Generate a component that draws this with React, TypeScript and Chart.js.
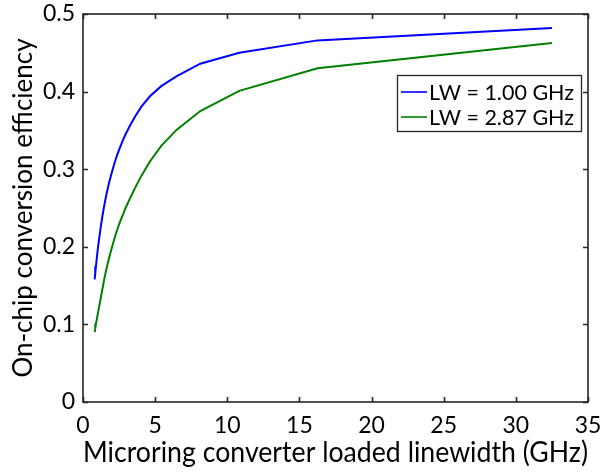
import React, { useEffect, useRef } from "react";
import { Chart, registerables } from "chart.js";

Chart.register(...registerables);

// Loaded linewidth (GHz)
const xValues = [32.5, 16.25, 10.83, 8.13, 6.5, 5.42, 4.64, 4.06, 3.61, 3.25, 2.95, 2.71, 2.5, 2.32, 2.17, 2.03, 1.81, 1.63, 1.48, 1.35, 1.25, 1.16, 1.08, 1.02, 0.96, 0.9, 0.85, 0.81];
// LW = 1.00 GHz
const effLw100 = [0.482, 0.466, 0.45, 0.436, 0.42, 0.407, 0.394, 0.381, 0.368, 0.356, 0.345, 0.335, 0.325, 0.316, 0.307, 0.298, 0.283, 0.268, 0.254, 0.24, 0.228, 0.216, 0.205, 0.196, 0.186, 0.175, 0.166, 0.158];
// LW = 2.87 GHz
const effLw287 = [0.4625, 0.43, 0.401, 0.375, 0.351, 0.33, 0.31, 0.292, 0.276, 0.262, 0.25, 0.239, 0.229, 0.219, 0.21, 0.201, 0.186, 0.172, 0.159, 0.146, 0.136, 0.127, 0.119, 0.113, 0.107, 0.101, 0.095, 0.09];

const seriesLabels = ["LW = 1.00 GHz", "LW = 2.87 GHz"];
const seriesColors = ["#0000ff", "#008000"];
const xTicks = [0, 5, 10, 15, 20, 25, 30, 35];
const yTicks = [0, 0.1, 0.2, 0.3, 0.4, 0.5];
const xTitle = "Microring converter loaded linewidth (GHz)";
const yTitle = "On-chip conversion efficiency";

const FONT = "Lato, 'Open Sans', sans-serif";
const AXIS_COLOR = "#262626";

const boxPlugin = {
  id: "matlabBox",
  afterDraw(chart: any) {
    const { ctx, chartArea, scales } = chart;
    const { left, right, top, bottom } = chartArea;
    ctx.save();
    ctx.strokeStyle = AXIS_COLOR;
    ctx.lineWidth = 1.6;
    const tl = 5;
    ctx.beginPath();
    for (const v of xTicks) {
      const px = Math.round(scales.x.getPixelForValue(v)) + 0.5;
      ctx.moveTo(px, bottom);
      ctx.lineTo(px, bottom - tl);
      ctx.moveTo(px, top);
      ctx.lineTo(px, top + tl);
    }
    for (const v of yTicks) {
      const py = Math.round(scales.y.getPixelForValue(v)) + 0.5;
      ctx.moveTo(left, py);
      ctx.lineTo(left + tl, py);
      ctx.moveTo(right, py);
      ctx.lineTo(right - tl, py);
    }
    ctx.stroke();
    ctx.strokeRect(left, top, right - left, bottom - top);

    // legend
    const lx = 397, ly = 75, lw = 184, lh = 56;
    ctx.fillStyle = "#ffffff";
    ctx.fillRect(lx, ly, lw, lh);
    ctx.strokeStyle = AXIS_COLOR;
    ctx.lineWidth = 1.3;
    ctx.strokeRect(lx + 0.5, ly + 0.5, lw, lh);
    ctx.font = `21.5px ${FONT}`;
    ctx.textBaseline = "middle";
    ctx.textAlign = "left";
    seriesLabels.forEach((lab, i) => {
      const yy = ly + 17 + i * 25;
      ctx.strokeStyle = seriesColors[i];
      ctx.lineWidth = 1.6;
      ctx.beginPath();
      ctx.moveTo(lx + 4, yy);
      ctx.lineTo(lx + 30, yy);
      ctx.stroke();
      ctx.fillStyle = "#000000";
      ctx.fillText(lab, lx + 32, yy + 1);
    });
    ctx.restore();
  },
};

export default function App() {
  const ref = useRef<HTMLCanvasElement | null>(null);
  useEffect(() => {
    if (!ref.current) return;
    const chart = new Chart(ref.current, {
      type: "line",
      data: {
        datasets: [
          {
            label: seriesLabels[0],
            data: xValues.map((x, i) => ({ x, y: effLw100[i] })),
            borderColor: seriesColors[0],
            borderWidth: 2,
            pointRadius: 0,
            tension: 0,
            fill: false,
          },
          {
            label: seriesLabels[1],
            data: xValues.map((x, i) => ({ x, y: effLw287[i] })),
            borderColor: seriesColors[1],
            borderWidth: 2,
            pointRadius: 0,
            tension: 0,
            fill: false,
          },
        ],
      },
      options: {
        animation: false,
        responsive: false,
        maintainAspectRatio: false,
        layout: { padding: { left: 0, right: 18, top: 14, bottom: 0 } },
        plugins: { legend: { display: false }, tooltip: { enabled: false } },
        scales: {
          x: {
            type: "linear",
            min: 0,
            max: 35,
            grid: { display: false, drawTicks: false },
            border: { display: false },
            afterBuildTicks: (s: any) => {
              s.ticks = xTicks.map((v) => ({ value: v }));
            },
            ticks: {
              autoSkip: false,
              maxRotation: 0,
              padding: 10,
              color: "#000000",
              font: { family: FONT, size: 23 },
              callback: (v: any) => String(v),
            },
            title: {
              display: true,
              text: xTitle,
              color: "#000000",
              font: { family: FONT, size: 28 },
              padding: { top: 0, bottom: 2 },
            },
            afterFit: (s: any) => {
              s.height = 70;
              s.paddingLeft = 0;
              s.paddingRight = 0;
            },
          },
          y: {
            type: "linear",
            min: 0,
            max: 0.5,
            grid: { display: false, drawTicks: false },
            border: { display: false },
            afterBuildTicks: (s: any) => {
              s.ticks = yTicks.map((v) => ({ value: v }));
            },
            ticks: {
              padding: 8,
              color: "#000000",
              font: { family: FONT, size: 23 },
              callback: (v: any) => (v === 0 ? "0" : Number(v).toFixed(1)),
            },
            title: {
              display: true,
              text: yTitle,
              color: "#000000",
              font: { family: FONT, size: 26 },
              padding: { top: 8, bottom: 0 },
            },
            afterFit: (s: any) => {
              s.width = 83;
              s.paddingTop = 0;
              s.paddingBottom = 0;
            },
          },
        },
      },
      plugins: [boxPlugin],
    });
    return () => chart.destroy();
  }, []);
  return (
    <div style={{ position: "fixed", left: 0, top: 0, width: 606, height: 472, background: "#fff" }}>
      <canvas ref={ref} width={606} height={472} style={{ display: "block", width: 606, height: 472 }} />
    </div>
  );
}
